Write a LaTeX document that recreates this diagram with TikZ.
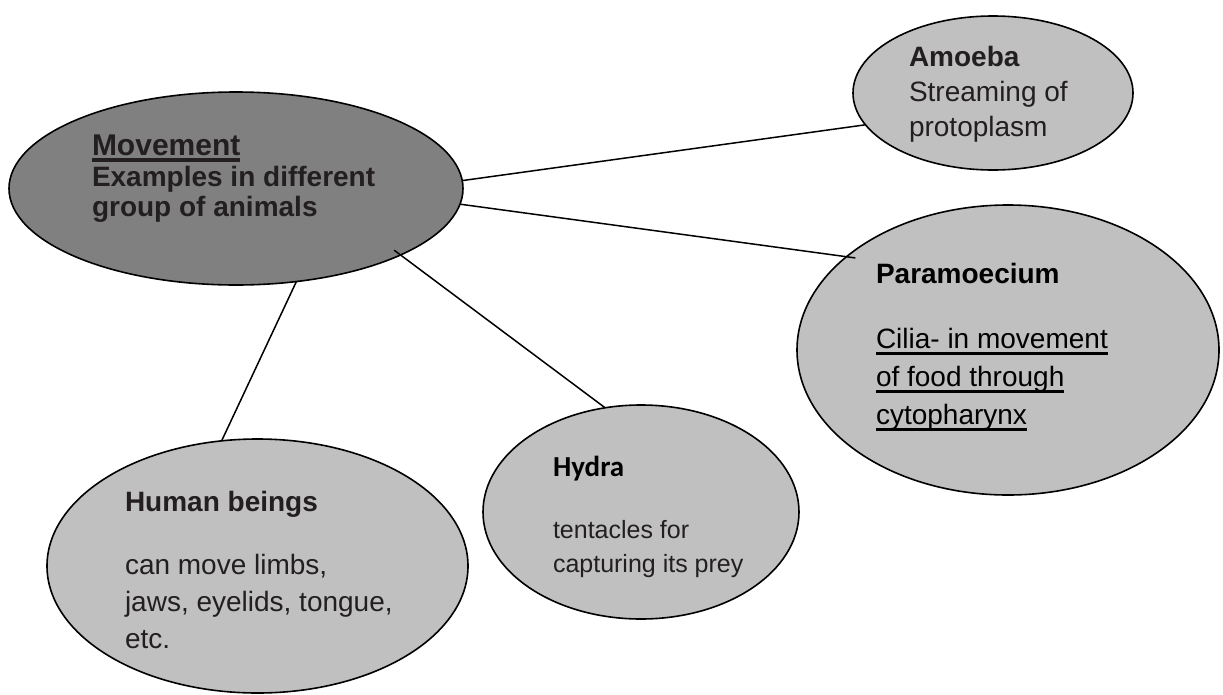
\documentclass[tikz,border=0pt]{standalone}
\usepackage{fontspec}
\setmainfont{Liberation Sans}
\newfontfamily\calib{Carlito}
\usetikzlibrary{shapes.geometric}
\definecolor{dk}{HTML}{808080}
\definecolor{lt}{HTML}{C0C0C0}
\definecolor{ink}{HTML}{231F20}
% underline at a fixed distance below the baseline: #1 top, #2 bottom
\newcommand\ulword[3]{\setbox0\hbox{#3}\rlap{\vrule height -#1pt depth #2pt width \wd0}\box0}
\tikzset{
  bub/.style={ellipse, draw, line width=1.6pt, inner sep=0pt, outer sep=0pt},
  txt/.style={anchor=base west, inner sep=0pt, outer sep=0pt, text=ink,
              font=\fontsize{28}{32}\selectfont},
  btxt/.style={txt, font=\fontsize{28}{32}\selectfont\bfseries},
  con/.style={line width=1.5pt},
}
\begin{document}
\begin{tikzpicture}[x=1pt, y=-1pt]
\useasboundingbox (0,0) rectangle (1223,694);

% bubbles
\node[bub, fill=dk, minimum width=454pt, minimum height=193pt] (mov) at (236,188.5) {};
\node[bub, fill=lt, minimum width=280pt, minimum height=154pt] (amo) at (993,93) {};
\node[bub, fill=lt, minimum width=422pt, minimum height=290pt] (par) at (1008,350) {};
\node[bub, fill=lt, minimum width=316pt, minimum height=214pt] (hyd) at (641,512) {};
\node[bub, fill=lt, minimum width=421pt, minimum height=254pt] (hum) at (257.5,566) {};

% connectors
\draw[con] (mov.2.4) -- (amo.194);
\draw[con, shorten >=-9pt] (mov.-4.2) -- (par.150.4);
\draw[con, shorten <=-8pt] (mov.-22) -- (hyd.109.6);
\draw[con] (mov.-57.3) -- (hum.106.5);

% central text
\node[txt, font=\fontsize{30}{34}\selectfont\bfseries] (m1) at (92,155) {\ulword{3}{6.5}{Movement}};
\node[btxt] (m2) at (92,186) {Examples in different};
\node[btxt] (m3) at (92,216) {group of animals};

% Amoeba
\node[btxt] (a1) at (909,66) {Amoeba};
\node[txt] (a2) at (909,101) {Streaming of};
\node[txt] (a3) at (909,136) {protoplasm};

% Paramoecium
\node[btxt, text=black] (p1) at (876,283) {Paramoecium};
\node[txt, text=black] (p2) at (876,348) {\ulword{4.3}{7}{Cilia- in movement}};
\node[txt, text=black] (p3) at (876,386) {\ulword{4.3}{7}{of food through}};
\node[txt, text=black] (p4) at (876,424) {\ulword{4.3}{7}{cytopharynx}};

% Hydra
\node[txt, text=black, font=\fontsize{29}{33}\selectfont\calib\bfseries] (h1) at (553,476) {Hydra};
\node[txt, font=\fontsize{25}{30}\selectfont] (h2) at (553,538) {tentacles for};
\node[txt, font=\fontsize{25}{30}\selectfont] (h3) at (553,572) {capturing its prey};

% Human beings
\node[btxt] (u1) at (125,511) {Human beings};
\node[txt] (u2) at (125,574) {can move limbs,};
\node[txt] (u3) at (125,611) {jaws, eyelids, tongue,};
\node[txt] (u4) at (125,648) {etc.};
\end{tikzpicture}
\end{document}
